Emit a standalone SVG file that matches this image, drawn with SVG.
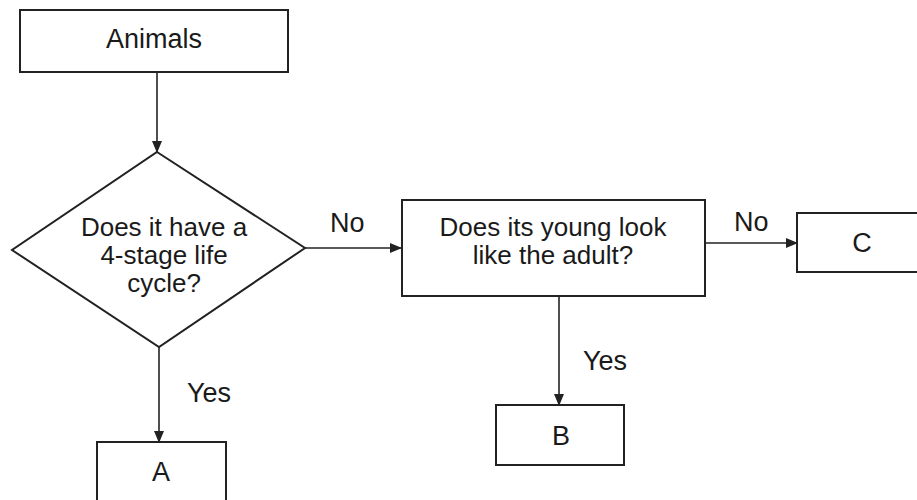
<svg xmlns="http://www.w3.org/2000/svg" width="917" height="500" viewBox="0 0 917 500">
<style>
.box{fill:#fff;stroke:#222;stroke-width:2}
.t{font-family:"Liberation Sans",Arial,sans-serif;font-size:27px;fill:#1a1a1a;text-anchor:middle}
.m{font-size:26px}
.l{font-family:"Liberation Sans",Arial,sans-serif;font-size:27px;fill:#1a1a1a}
.c{stroke:#222;stroke-width:1.6;fill:none;marker-end:url(#ah)}
</style>
<defs>
<marker id="ah" markerWidth="12" markerHeight="10" refX="11" refY="5" orient="auto" markerUnits="userSpaceOnUse">
<path d="M0,0 L12,5 L0,10 Z" fill="#222"/>
</marker>
</defs>
<rect width="917" height="500" fill="#fff"/>
<g id="connectors">
<line class="c" x1="157" y1="72" x2="157" y2="152"/>
<line class="c" x1="305" y1="248" x2="401" y2="248"/>
<line class="c" x1="705" y1="243" x2="797" y2="243"/>
<line class="c" x1="559" y1="296" x2="559" y2="405"/>
<line class="c" x1="159" y1="347" x2="159" y2="442"/>
<text class="l" x="330" y="232">No</text>
<text class="l" x="734" y="231">No</text>
<text class="l" x="583" y="370">Yes</text>
<text class="l" x="187" y="402">Yes</text>
</g>
<g id="animals">
<rect class="box" x="20" y="10" width="268" height="62"/>
<text class="t" x="154" y="48">Animals</text>
</g>
<g id="q1">
<polygon class="box" points="157,152 305,248 159,347 12,250"/>
<text class="t m" x="164" y="236">Does it have a</text>
<text class="t m" x="164" y="264">4-stage life</text>
<text class="t m" x="164" y="292">cycle?</text>
</g>
<g id="q2">
<rect class="box" x="402" y="200" width="303" height="96"/>
<text class="t m" x="553" y="236">Does its young look</text>
<text class="t m" x="553" y="264">like the adult?</text>
</g>
<g id="c">
<rect class="box" x="797" y="213" width="140" height="59"/>
<text class="t" x="862" y="252">C</text>
</g>
<g id="b">
<rect class="box" x="496" y="405" width="128" height="60"/>
<text class="t" x="561" y="445">B</text>
</g>
<g id="a">
<rect class="box" x="97" y="442" width="129" height="70"/>
<text class="t" x="161" y="481">A</text>
</g>
</svg>
